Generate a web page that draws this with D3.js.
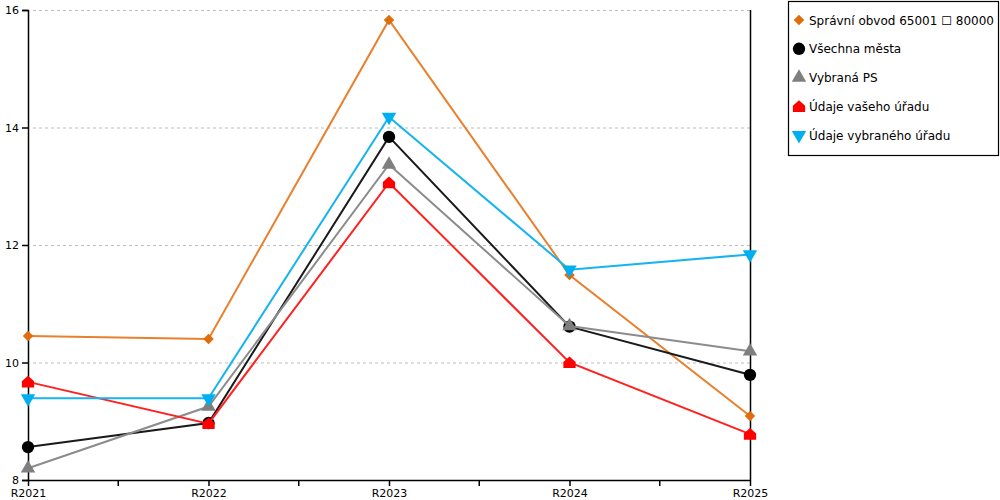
<!DOCTYPE html>
<html>
<head>
<meta charset="utf-8">
<script src="https://cdn.jsdelivr.net/npm/d3@7"></script>
<style>
  body { margin: 0; background: #fff; }
  svg { font-family: "DejaVu Sans", Verdana, sans-serif; }
</style>
</head>
<body>
<svg id="chart" width="1000" height="500"></svg>
<script>
// Categories and series
const years = ['R2021', 'R2022', 'R2023', 'R2024', 'R2025'];
const yTicks = [8, 10, 12, 14, 16];

const spravniObvod = [10.45, 10.40, 15.83, 11.49, 9.09];
const vsechnaMesta = [8.56, 8.97, 13.84, 10.61, 9.79];
const vybranaPS = [8.20, 9.25, 13.37, 10.62, 10.19];
const udajeVaseho = [9.67, 8.96, 13.06, 10.00, 8.78];
const udajeVybraneho = [9.39, 9.39, 14.18, 11.58, 11.84];

const seriesNames = [
  'Správní obvod 65001 \u2610 80000',
  'Všechna města',
  'Vybraná PS',
  'Údaje vašeho úřadu',
  'Údaje vybraného úřadu'
];

// house-shaped marker (square with roof)
const houseSymbol = {
  draw(ctx, size) {
    const w = Math.sqrt(size) / 2;
    ctx.moveTo(-w, w * 0.9);
    ctx.lineTo(w, w * 0.9);
    ctx.lineTo(w, -w * 0.1);
    ctx.lineTo(0, -w * 1.0);
    ctx.lineTo(-w, -w * 0.1);
    ctx.closePath();
  }
};

const series = [
  { name: seriesNames[0], values: spravniObvod, line: '#e8802e', fill: '#e06c0a', symbol: d3.symbolSquare, size: 55, rot: 45 },
  { name: seriesNames[1], values: vsechnaMesta, line: '#1a1a1a', fill: '#000000', symbol: d3.symbolCircle, size: 120, rot: 0 },
  { name: seriesNames[2], values: vybranaPS, line: '#8c8c8c', fill: '#7f7f7f', symbol: d3.symbolTriangle, size: 90, rot: 0 },
  { name: seriesNames[3], values: udajeVaseho, line: '#ff2020', fill: '#ff0000', symbol: houseSymbol, size: 150, rot: 0 },
  { name: seriesNames[4], values: udajeVybraneho, line: '#16b4ee', fill: '#00aff0', symbol: d3.symbolTriangle, size: 90, rot: 180 }
];

const margin = { top: 10, left: 28, right: 250, bottom: 20 };
const width = 1000, height = 500;
const svg = d3.select('#chart');

const x = d3.scalePoint()
  .domain(years)
  .range([margin.left, width - margin.right]);

const y = d3.scaleLinear()
  .domain([8, 16])
  .range([height - margin.bottom, margin.top]);

// Grid lines
svg.append('g')
  .selectAll('line')
  .data(yTicks.filter(d => d !== 8))
  .enter()
  .append('line')
  .attr('x1', margin.left + 5)
  .attr('x2', width - margin.right)
  .attr('y1', d => y(d) + 0.5)
  .attr('y2', d => y(d) + 0.5)
  .attr('stroke', '#bdbdbd')
  .attr('stroke-dasharray', '3,3');

// Right border
svg.append('line')
  .attr('x1', width - margin.right + 0.5)
  .attr('x2', width - margin.right + 0.5)
  .attr('y1', margin.top)
  .attr('y2', height - margin.bottom)
  .attr('stroke', '#000')
  .attr('stroke-width', 1.5);

// Y axis
const yAxis = svg.append('g')
  .attr('transform', `translate(${margin.left},0)`)
  .call(d3.axisLeft(y).tickValues(yTicks).tickSize(6).tickPadding(3).tickFormat(d3.format('d')));
yAxis.select('.domain').attr('stroke-width', 1.5);
yAxis.selectAll('.tick line').attr('stroke-width', 1.5);

// X axis, with half-way minor ticks
const step = x.step();
const xAxis = svg.append('g')
  .attr('transform', `translate(0,${height - margin.bottom})`)
  .call(d3.axisBottom(x).tickSize(6).tickSizeOuter(0).tickPadding(3));
xAxis.select('.domain').attr('stroke-width', 1.5);
xAxis.selectAll('.tick line').attr('stroke-width', 1.5);
xAxis.selectAll('.minor')
  .data(years.slice(0, -1))
  .enter()
  .append('line')
  .attr('class', 'minor')
  .attr('x1', d => x(d) + step / 2)
  .attr('x2', d => x(d) + step / 2)
  .attr('y1', 0)
  .attr('y2', 6)
  .attr('stroke', '#000')
  .attr('stroke-width', 1.5);

svg.selectAll('.tick text')
  .attr('font-size', 11)
  .attr('fill', '#000')
  .attr('font-family', '"DejaVu Sans", Verdana, sans-serif');

// Lines and markers
const line = d3.line()
  .x((d, i) => x(years[i]))
  .y(d => y(d));

series.forEach(s => {
  const g = svg.append('g');
  g.append('path')
    .datum(s.values)
    .attr('d', line)
    .attr('fill', 'none')
    .attr('stroke', s.line)
    .attr('stroke-width', 2);
  g.selectAll('path.marker')
    .data(s.values)
    .enter()
    .append('path')
    .attr('class', 'marker')
    .attr('d', d3.symbol().type(s.symbol).size(s.size))
    .attr('transform', (d, i) => `translate(${x(years[i])},${y(d)}) rotate(${s.rot})`)
    .attr('fill', s.fill);
});

// Legend
const legend = svg.append('g');
legend.append('rect')
  .attr('x', 788.5)
  .attr('y', 1.5)
  .attr('width', 210)
  .attr('height', 154)
  .attr('fill', '#fff')
  .attr('stroke', '#000')
  .attr('stroke-width', 1.2);

const items = legend.selectAll('g.item')
  .data(series)
  .enter()
  .append('g')
  .attr('class', 'item')
  .attr('transform', (d, i) => `translate(799,${20 + i * 28.8})`);

items.append('path')
  .attr('d', d => d3.symbol().type(d.symbol).size(d.size)())
  .attr('transform', d => `rotate(${d.rot})`)
  .attr('fill', d => d.fill);

items.append('text')
  .attr('x', 10)
  .attr('y', 4.5)
  .attr('font-size', 12)
  .attr('fill', '#000')
  .text(d => d.name);
</script>
</body>
</html>
